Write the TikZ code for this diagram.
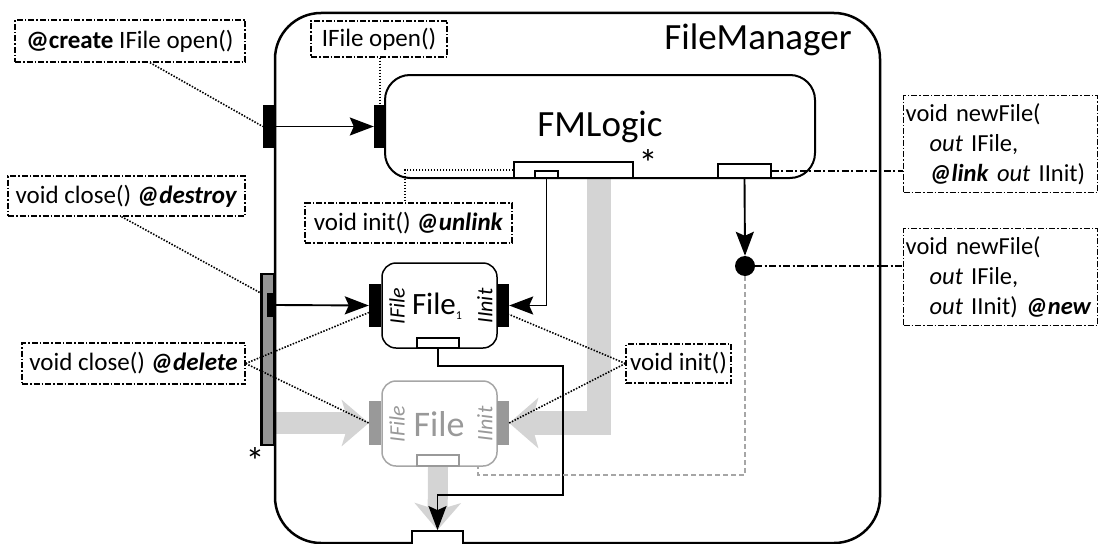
\documentclass[tikz,border=0pt]{standalone}
\usepackage{fontspec}
\setmainfont{Carlito}
\usetikzlibrary{arrows.meta}
\pgfdeclarelayer{bg}
\pgfsetlayers{bg,main}
\begin{document}
\begin{tikzpicture}[x=1pt,y=-1pt,
  lbl/.style={draw, line width=1.3pt, dash pattern=on 6pt off 2pt on 1.5pt off 2pt,
    font=\fontsize{25}{30}\selectfont, inner sep=0pt},
  blkport/.style={fill=black, inner sep=0pt},
  whport/.style={draw, fill=white, line width=1.6pt, inner sep=0pt},
  arr/.style={line width=1.9pt, -{Stealth[length=24pt,width=18pt,inset=4pt]}},
  dotc/.style={line width=1.6pt, black, dash pattern=on 1.5pt off 1.5pt},
  dashdotc/.style={line width=1.6pt, dash pattern=on 7pt off 2.5pt on 2pt off 2.5pt},
  gdash/.style={black!35, line width=1.6pt, dash pattern=on 5pt off 3pt},
  band/.style={line width=22pt, black!17, -{Stealth[length=27pt,width=46pt,inset=7pt]}},
  big/.style={font=\fontsize{37}{40}\selectfont},
  star/.style={font=\fontsize{38}{38}\selectfont, inner sep=0pt},
  side/.style={rotate=90, font=\fontsize{22}{22}\selectfont\itshape, inner sep=0pt},
  sig/.style={lbl, anchor=north west, minimum height=97pt, text width=190pt, inner sep=2pt,
    align=left, font=\fontsize{24.5}{30}\selectfont},
]
\useasboundingbox (0,0) rectangle (1099,543);
\clip (0,0) rectangle (1099,543);

% container component
\draw[line width=2.5pt, rounded corners=46pt] (275,13) rectangle (880,543);
\node[big] (fmtitle) at (758,40) {FileManager};

% FMLogic part and its ports
\node[draw, line width=2pt, rounded corners=25pt, fill=white, minimum width=430pt,
  minimum height=103pt, inner sep=0pt, big] (fml) at (600,126.5) {FMLogic};
\node[blkport, minimum width=12pt, minimum height=43pt] (ip1) at (380,126.5) {};
\node[whport, minimum width=119pt, minimum height=16pt] (bp) at (573.5,170) {};
\node[whport, line width=1.4pt, minimum width=23pt, minimum height=7pt] (sp) at (546.5,174.5) {};
\node[whport, minimum width=53pt, minimum height=14pt] (rp) at (744.5,171) {};
\node[star] (st1) at (648,163) {*};

% ports on the container border
\node[blkport, minimum width=13pt, minimum height=43pt] (op1) at (269.5,126.5) {};
\node[draw, fill=black!42, line width=2.5pt, minimum width=13pt, minimum height=171pt,
  inner sep=0pt] (gbar) at (268,359.5) {};
\node[blkport, minimum width=9pt, minimum height=24pt] (gp) at (271.5,305) {};
\node[star] (st2) at (255,461) {*};

% File_1 instance
\node[draw, line width=1.5pt, rounded corners=14pt, fill=white, minimum width=115pt,
  minimum height=85pt, inner sep=0pt] (f1) at (439.5,305.5) {};
\node[blkport, minimum width=12pt, minimum height=43pt] (f1l) at (375,305.5) {};
\node[blkport, minimum width=12pt, minimum height=43pt] (f1r) at (503,305.5) {};
\node[whport, line width=1.4pt, minimum width=42pt, minimum height=10pt] (f1b) at (438,343) {};
\node[font=\fontsize{31}{31}\selectfont, inner sep=0pt] (f1t) at (437,306)
  {File\raisebox{-5pt}{\fontsize{12}{12}\selectfont 1}};
\node[side] (f1if) at (397,306) {IFile};
\node[side] (f1ii) at (485,306) {IInit};

% prospective File instance
\node[draw=black!35, line width=1.5pt, rounded corners=14pt, fill=white, minimum width=115pt,
  minimum height=85pt, inner sep=0pt] (gf) at (439.5,423.5) {};
\node[fill=black!40, inner sep=0pt, minimum width=12pt, minimum height=44pt] (gl) at (375,423) {};
\node[fill=black!40, inner sep=0pt, minimum width=12pt, minimum height=44pt] (gr) at (503,423) {};
\node[draw=black!40, fill=white, line width=1.4pt, inner sep=0pt, minimum width=42pt,
  minimum height=11pt] (gfb) at (438,460.5) {};
\node[font=\fontsize{36}{36}\selectfont, inner sep=0pt, black!40] (gft) at (439,424) {File};
\node[side, black!40] (gfif) at (397,424) {IFile};
\node[side, black!40] (gfii) at (485,424) {IInit};

% lower port
\node[draw, line width=1.8pt, fill=white, minimum width=51pt, minimum height=30pt,
  inner sep=0pt] (bot) at (437.5,546) {};

% creation point
\node[circle, fill=black, minimum size=20pt, inner sep=0pt] (dot) at (745,266) {};

% annotations
\node[lbl, minimum width=230pt, minimum height=42pt] (create) at (130,41)
  {\textbf{@create} IFile open()};
\node[lbl, minimum width=136pt, minimum height=36pt] (iopen) at (379,39) {IFile open()};
\node[lbl, minimum width=237pt, minimum height=40pt] (destroy) at (126.5,196)
  {void close() \textbf{\textit{@destroy}}};
\node[lbl, minimum width=207pt, minimum height=40pt] (unlink) at (408.5,223)
  {void init() \textbf{\textit{@unlink}}};
\node[lbl, minimum width=223pt, minimum height=41pt] (delete) at (133.5,363.5)
  {void close() \textbf{\textit{@delete}}};
\node[lbl, minimum width=105pt, minimum height=39pt] (init) at (678.5,363.5) {void init()};
\node[sig] (nf1) at (903,95)
  {void newFile(\\\hspace*{24pt}\textit{out} IFile,\\\hspace*{24pt}\textbf{\textit{@link}} \textit{out} IInit)};
\node[sig] (nf2) at (903,228)
  {void newFile(\\\hspace*{24pt}\textit{out} IFile,\\\hspace*{24pt}\mbox{\textit{out} IInit) \textbf{\textit{@new}}}};

% wide grey flows
\begin{pgfonlayer}{bg}
  \draw[band] (gbar.east |- gl.west) -- (gl.west);
  \draw[band, line width=24pt, -{Stealth[length=29pt,width=50pt,inset=7pt]}]
    ([xshift=25.5pt]bp.south) |- (gr.east);
  \draw[band, line width=20pt] (gfb.south) -- (bot.north);
\end{pgfonlayer}

% connectors
\draw[arr] (op1.east) -- (ip1.west);
\draw[arr] (gp.east) -- (f1l.west);
\draw[arr] (sp.south) |- (f1r.east);
\draw[arr] (rp.south) -- (dot.north);
\coordinate (w1) at (563,366);
\coordinate (w2) at (563,495);
\draw[arr] (f1b.south) |- (w1) -- (w2) -| (bot.north);
\coordinate (gc) at (478,475);
\draw[gdash] (dot.south) |- (gc) -- (gc |- gf.south);

% annotation leaders
\draw[dotc] ([xshift=20pt]create.south) -- (op1.west);
\draw[dotc] (iopen.south -| ip1.north) -- (ip1.north);
\draw[dotc] ([xshift=-5pt]destroy.south) -- (gbar.west |- gp.north);
\draw[dotc] (bp.west) -| ([xshift=-3.5pt]unlink.north);
\draw[dotc] (delete.east) -- ([yshift=-7pt]f1l.west);
\draw[dotc] (delete.east) -- (gl.west);
\draw[dotc] (init.west) -- ([yshift=-9pt]f1r.east);
\draw[dotc] (init.west) -- (gr.east);
\draw[dashdotc] (rp.east) -- (rp.east -| nf1.west);
\draw[dashdotc] (dot.east) -- (dot -| nf2.west);
\end{tikzpicture}
\end{document}
